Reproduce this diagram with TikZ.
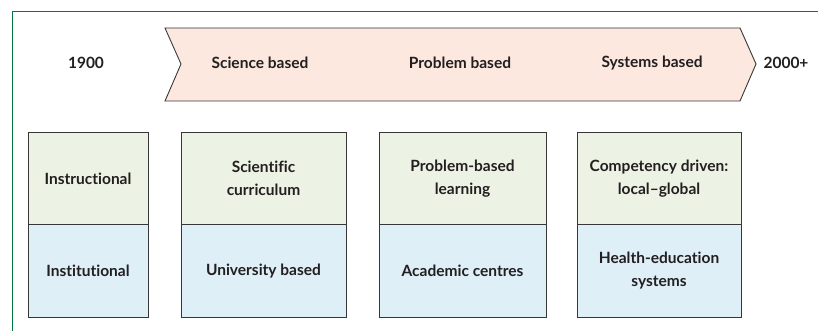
\documentclass[tikz,border=0pt]{standalone}
\usepackage{fontspec}
\setmainfont{Lato}[Ligatures=NoCommon]
\usetikzlibrary{positioning}
\definecolor{framegreen}{RGB}{0,122,61}
\definecolor{arrowfill}{RGB}{252,232,222}
\definecolor{greenfill}{RGB}{236,243,229}
\definecolor{bluefill}{RGB}{222,239,247}
\definecolor{boxline}{RGB}{55,55,55}
\definecolor{textgrey}{RGB}{35,31,32}

\begin{document}
\begin{tikzpicture}[
    x=1pt, y=-1pt,
    tagtext/.style={font=\fontsize{15.5}{23}\selectfont\bfseries, text=textgrey, align=center},
    topcell/.style={rectangle, draw=boxline, line width=0.9pt, fill=greenfill, minimum height=91.5pt, inner sep=0pt, outer sep=0pt, tagtext},
    basecell/.style={topcell, fill=bluefill, minimum height=93pt},
    node distance=0pt
]
    \useasboundingbox (0,0) rectangle (818,331);

    % Frame
    \draw[framegreen, line width=1pt] (818,12) -- (12,12) -- (12,331);

    % Arrow
    \coordinate (tl) at (165,28);
    \coordinate (tr) at (740,28);
    \coordinate (tip) at (756,64);
    \coordinate (br) at (740,101);
    \coordinate (bl) at (165,101);
    \coordinate (notch) at (181,64);
    \draw[boxline, line width=0.9pt, fill=arrowfill] (tl) -- (tr) -- (tip) -- (br) -- (bl) -- (notch) -- cycle;

    % Timeline
    \node[tagtext] (start) at (86,63) {1900};
    \node[tagtext] (science) at (260,63) {Science based};
    \node[tagtext] (problem) at (460,63) {Problem based};
    \node[tagtext] (systems) at (652,63) {Systems based};
    \node[tagtext] (end) at (786,63) {2000+};

    % Blocks
    \node[topcell, minimum width=120pt] (instr) at (88,178.5) {Instructional};
    \node[basecell, minimum width=120pt, below=of instr] (instit) {Institutional};
    \node[topcell, minimum width=165pt] (scicur) at (263.5,178.5) {Scientific\\curriculum};
    \node[basecell, minimum width=165pt, below=of scicur] (univ) {University based};
    \node[topcell, minimum width=167pt] (pbl) at (462.5,178.5) {Problem-based\\learning};
    \node[basecell, minimum width=167pt, below=of pbl] (acad) {Academic centres};
    \node[topcell, minimum width=164pt] (comp) at (659,178.5) {Competency driven:\\local–global};
    \node[basecell, minimum width=164pt, below=of comp] (hes) {Health-education\\systems};

\end{tikzpicture}
\end{document}
